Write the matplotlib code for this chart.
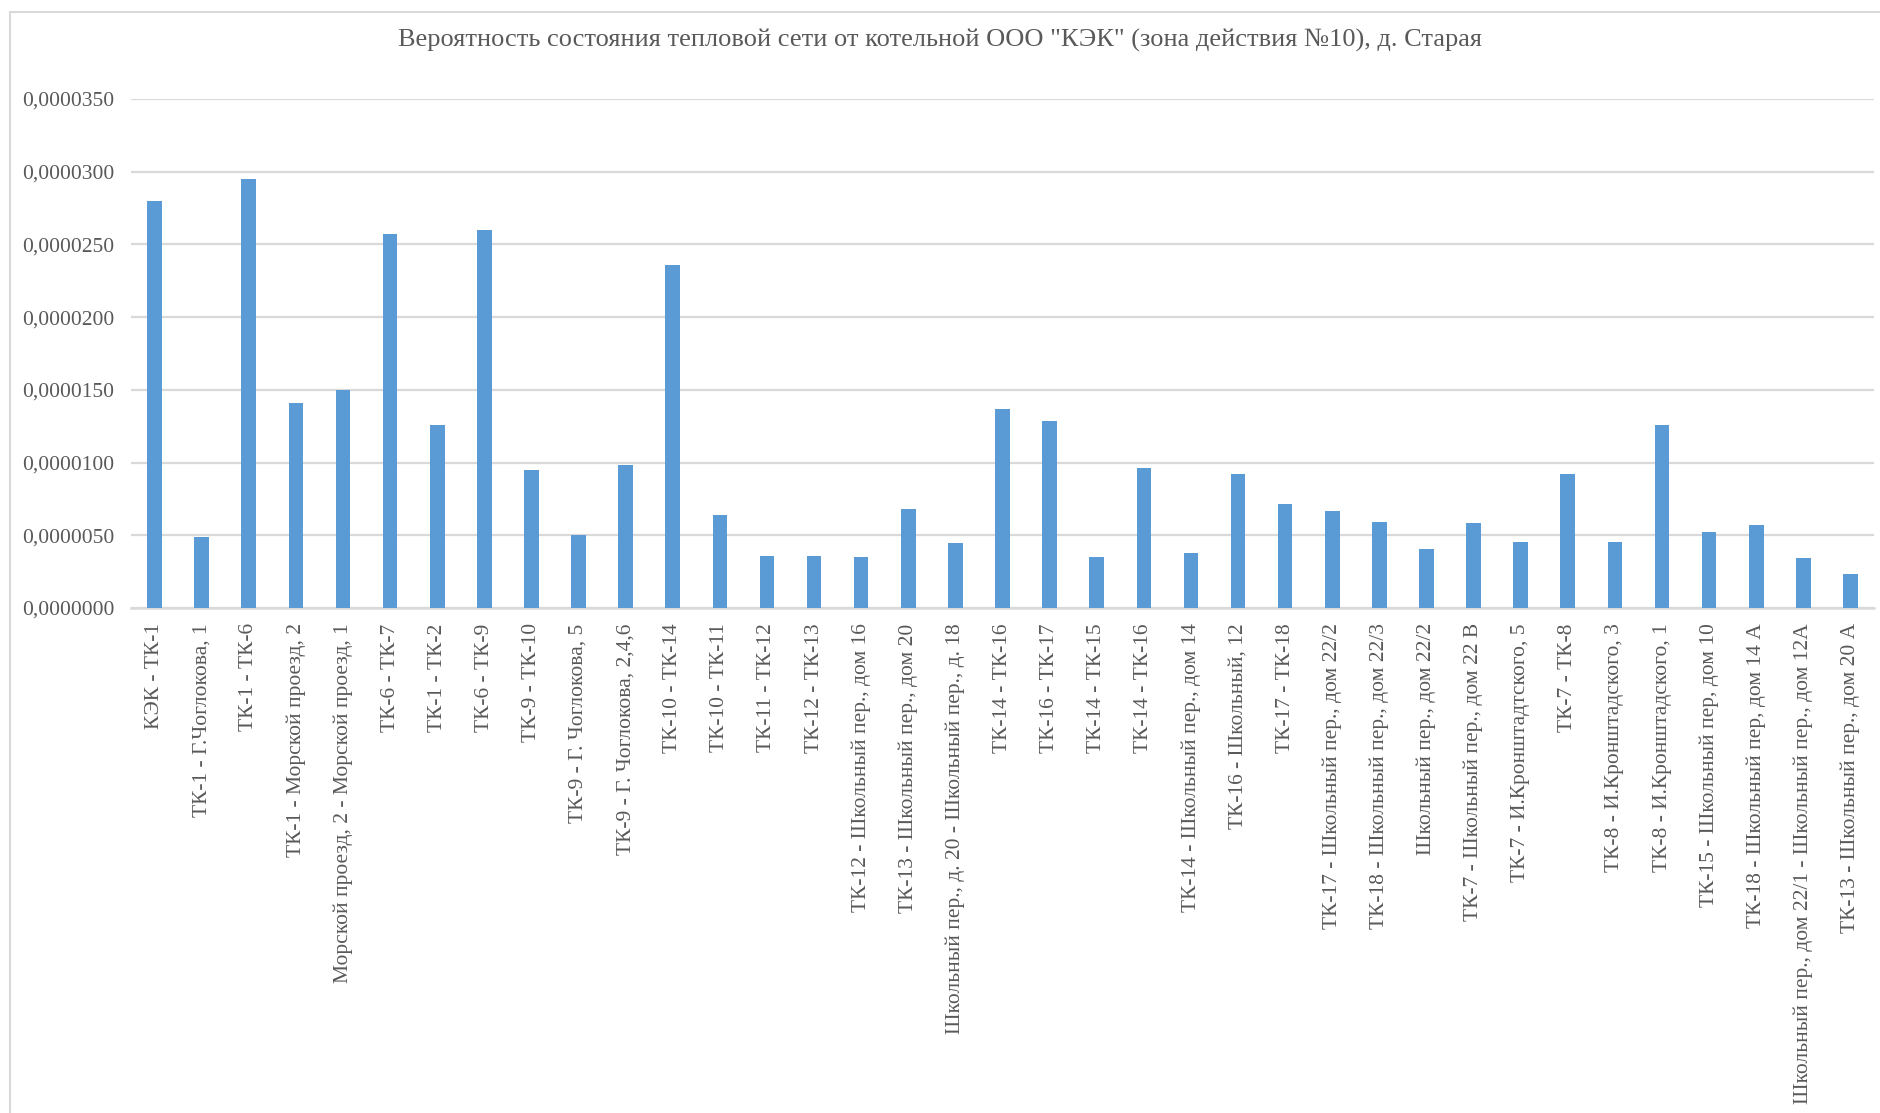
import matplotlib
matplotlib.use("Agg")
import matplotlib.pyplot as plt
from matplotlib.ticker import FuncFormatter
from matplotlib.lines import Line2D

title = 'Вероятность состояния тепловой сети от котельной ООО "КЭК" (зона действия №10), д. Старая'

labels = [
    "КЭК - ТК-1",
    "ТК-1 - Г.Чоглокова, 1",
    "ТК-1 - ТК-6",
    "ТК-1 - Морской проезд, 2",
    "Морской проезд, 2 - Морской проезд, 1",
    "ТК-6 - ТК-7",
    "ТК-1 - ТК-2",
    "ТК-6 - ТК-9",
    "ТК-9 - ТК-10",
    "ТК-9 - Г. Чоглокова, 5",
    "ТК-9 - Г. Чоглокова, 2,4,6",
    "ТК-10 - ТК-14",
    "ТК-10 - ТК-11",
    "ТК-11 - ТК-12",
    "ТК-12 - ТК-13",
    "ТК-12 - Школьный пер., дом 16",
    "ТК-13 - Школьный пер., дом 20",
    "Школьный пер., д. 20 - Школьный пер., д. 18",
    "ТК-14 - ТК-16",
    "ТК-16 - ТК-17",
    "ТК-14 - ТК-15",
    "ТК-14 - ТК-16",
    "ТК-14 - Школьный пер., дом 14",
    "ТК-16 - Школьный, 12",
    "ТК-17 - ТК-18",
    "ТК-17 - Школьный пер., дом 22/2",
    "ТК-18 - Школьный пер., дом 22/3",
    "Школьный пер., дом 22/2",
    "ТК-7 - Школьный пер., дом 22 В",
    "ТК-7 - И.Кронштадтского, 5",
    "ТК-7 - ТК-8",
    "ТК-8 - И.Кронштадского, 3",
    "ТК-8 - И.Кронштадского, 1",
    "ТК-15 - Школьный пер, дом 10",
    "ТК-18 - Школьный пер, дом 14 А",
    "Школьный пер., дом 22/1 - Школьный пер., дом 12А",
    "ТК-13 - Школьный пер., дом 20 А",
]

# values in units of 1e-6
values_e6 = [
    28.0, 4.85, 29.5, 14.1, 15.0, 25.7, 12.6, 26.0, 9.5, 5.05,
    9.8, 23.6, 6.37, 3.55, 3.55, 3.48, 6.84, 4.45, 13.65, 12.83,
    3.48, 9.65, 3.81, 9.18, 7.12, 6.70, 5.94, 4.09, 5.82, 4.57,
    9.18, 4.57, 12.6, 5.21, 5.73, 3.41, 2.32,
]
values = [v * 1e-6 for v in values_e6]

y_ticks = [i * 5e-6 for i in range(8)]

grey = "#595959"
grid_c = "#D9D9D9"
serif = "Liberation Serif"

fig = plt.figure(figsize=(18.8, 11.13), dpi=100)
ax = fig.add_axes([131 / 1880, 505 / 1113, 1743 / 1880, 509 / 1113])

x = list(range(len(values)))
ax.bar(x, values, width=0.31, color="#5B9BD5", zorder=3)

ax.set_xlim(-0.5, len(values) - 0.5)
ax.set_ylim(0, 35e-6)
ax.set_yticks(y_ticks)
ax.yaxis.set_major_formatter(FuncFormatter(lambda v, p: f"{v:.7f}".replace(".", ",")))
ax.set_xticks(x)
ax.set_xticklabels(labels, rotation=90, fontfamily=serif, fontsize=15.5, color=grey)
for t in ax.get_yticklabels():
    t.set_fontfamily(serif)
    t.set_fontsize(15.5)
    t.set_color(grey)

ax.tick_params(axis="both", length=0)
ax.tick_params(axis="x", pad=11)
ax.tick_params(axis="y", pad=12)
ax.grid(axis="y", color=grid_c, linewidth=1.6, zorder=0)
for s in ["top", "right", "left"]:
    ax.spines[s].set_visible(False)
ax.spines["bottom"].set_color(grid_c)
ax.spines["bottom"].set_linewidth(1.8)

fig.text(0.5, 1 - 40 / 1113, title, ha="center", va="center",
         fontfamily=serif, fontsize=19, color=grey)

# chart area border (left and top edges visible)
fig.add_artist(Line2D([10 / 1880, 10 / 1880], [0, 1 - 12 / 1113], color=grid_c, linewidth=1.5))
fig.add_artist(Line2D([10 / 1880, 1], [1 - 12 / 1113, 1 - 12 / 1113], color=grid_c, linewidth=1.5))

fig.savefig("out.png", dpi=100)
